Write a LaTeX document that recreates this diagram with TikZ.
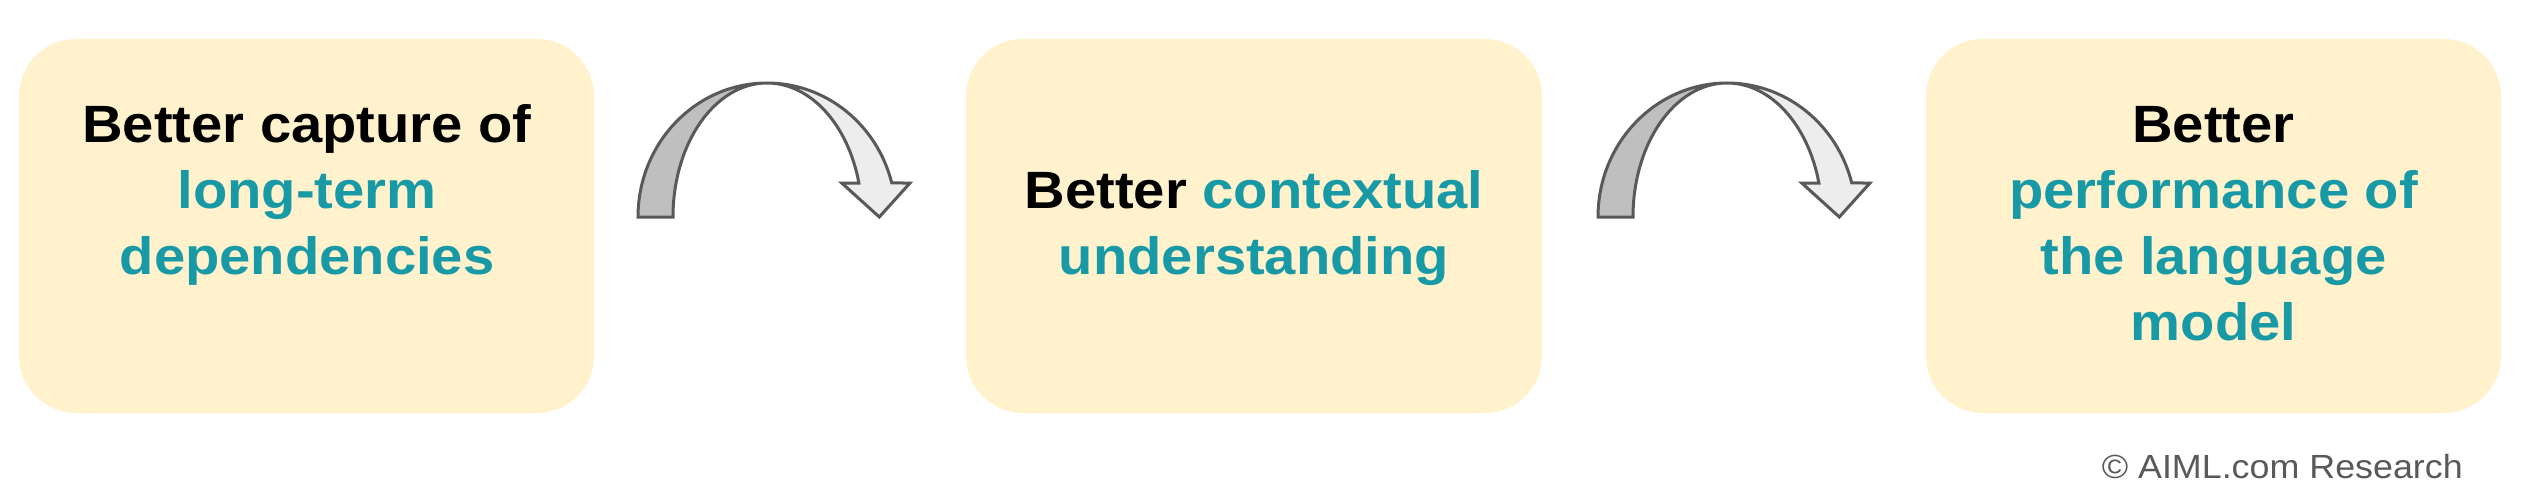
\documentclass[tikz,border=0pt]{standalone}
\usepackage{fontspec}
\setmainfont{Liberation Sans}[FakeStretch=1.07]
\definecolor{boxfill}{HTML}{FFF2CC}
\definecolor{teal}{RGB}{24,153,166}
\definecolor{edgegrey}{HTML}{595959}
\definecolor{darkband}{HTML}{BFBFBF}
\definecolor{lightband}{HTML}{EDEDED}
\begin{document}
\begin{tikzpicture}[x=1pt,y=1pt,
  boxshape/.style={fill=boxfill, draw=none, rounded corners=57pt},
  line/.style={inner sep=0pt, anchor=base, font=\fontsize{52.5}{66}\selectfont\bfseries},
  darkpart/.style={fill=darkband, draw=edgegrey, line width=3pt},
  lightpart/.style={fill=lightband, draw=edgegrey, line width=3pt},
  credit/.style={inner sep=0pt, anchor=base east, text=edgegrey, font=\fontsize{33.5}{40}\selectfont}]
\useasboundingbox (0,0) rectangle (2532,-500);
% boxes
\fill[boxshape] (19,-39) rectangle (594,-413);
\fill[boxshape] (966,-39) rectangle (1542,-413);
\fill[boxshape] (1926,-39) rectangle (2501,-413);
% box 1 text
\node[line] (t1a) at (307,-142.5) {Better capture of};
\node[line, text=teal] (t1b) at (307,-208) {long-term};
\node[line, text=teal] (t1c) at (307,-274) {dependencies};
% box 2 text
\node[line] (t2a) at (1254,-208) {Better \textcolor{teal}{contextual}};
\node[line, text=teal] (t2b) at (1254,-274) {understanding};
% box 3 text
\node[line] (t3a) at (2213.5,-142.5) {Better};
\node[line, text=teal] (t3b) at (2213.5,-208) {performance of};
\node[line, text=teal] (t3c) at (2213.5,-274) {the language};
\node[line, text=teal] (t3d) at (2213.5,-340) {model};
% curved arrows
\foreach \cx/\nm in {767/c1, 1727/c2}{
  \coordinate (\nm) at (\cx,-217);
  \draw[lightpart] ([yshift=134pt]\nm) arc[start angle=90, end angle=14.7, x radius=129pt, y radius=134pt]
     -- ([shift={(143,34)}]\nm) -- ([shift={(112.3,0)}]\nm) -- ([shift={(74.7,34)}]\nm)
     -- ([shift={(91.9,34)}]\nm) arc[start angle=14.7, end angle=90, x radius=95pt, y radius=134pt] -- cycle;
  \draw[darkpart] ([xshift=-129pt]\nm) arc[start angle=180, end angle=90, x radius=129pt, y radius=134pt]
     arc[start angle=90, end angle=180, x radius=94pt, y radius=134pt] -- cycle;
}
% credit
\node[credit] (cr) at (2463,-478) {© AIML.com Research};
\end{tikzpicture}
\end{document}
